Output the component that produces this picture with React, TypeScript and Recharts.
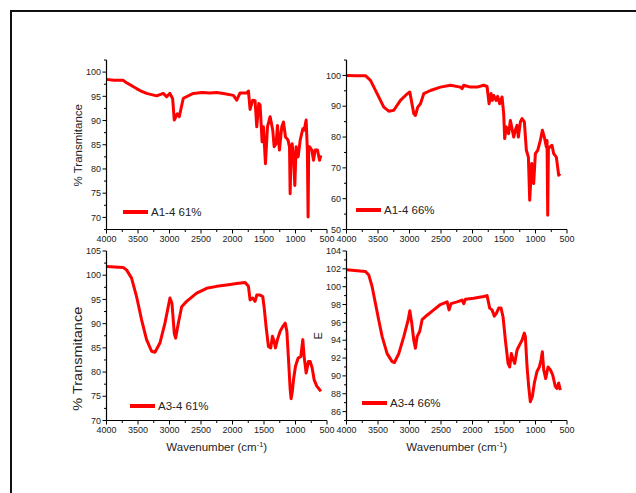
import React from "react";
import { LineChart, Line, XAxis, YAxis, Legend, Label } from "recharts";

// shared wavenumber ticks
const waveMajor = [4000, 3500, 3000, 2500, 2000, 1500, 1000, 500];
const waveMinor = [3750, 3250, 2750, 2250, 1750, 1250, 750];

// A1-4 61%
const a161Wave = [4000, 3880, 3735, 3682, 3600, 3523, 3440, 3364, 3205, 3099, 3046, 2993, 2950, 2924, 2876, 2845, 2781, 2622, 2480, 2357, 2250, 2145, 1986, 1933, 1880, 1774, 1747, 1721, 1679, 1642, 1615, 1583, 1562, 1530, 1509, 1477, 1445, 1403, 1361, 1339, 1308, 1286, 1255, 1218, 1191, 1159, 1138, 1117, 1095, 1085, 1070, 1053, 1032, 1011, 990, 958, 926, 884, 863, 831, 812, 800, 790, 778, 741, 714, 688, 651, 619, 598];
const a161T = [98.5, 98.3, 98.3, 97.8, 97.2, 96.6, 96.0, 95.6, 95.1, 95.6, 94.9, 95.6, 94.5, 90.1, 91.4, 90.8, 94.6, 95.6, 95.8, 95.7, 95.8, 95.6, 95.2, 94.2, 95.7, 95.7, 96.1, 92.3, 94.2, 94.1, 88.7, 93.5, 93.2, 85.6, 88.7, 81.1, 88.7, 90.8, 88.0, 84.6, 85.2, 89.0, 83.9, 88.7, 89.7, 86.6, 86.3, 85.9, 84.5, 74.9, 83.5, 85.2, 82.5, 76.6, 84.6, 82.5, 85.9, 88.3, 88.0, 90.1, 84.0, 70.1, 84.6, 84.6, 83.9, 81.8, 83.9, 83.9, 81.8, 82.8];
const a161Major = [70, 75, 80, 85, 90, 95, 100];
const a161Minor = [67.5, 72.5, 77.5, 82.5, 87.5, 92.5, 97.5, 102.5];

// A1-4 66%
const a166Wave = [4000, 3850, 3699, 3619, 3514, 3408, 3329, 3249, 3144, 3048, 2995, 2932, 2906, 2869, 2826, 2773, 2668, 2509, 2350, 2192, 2165, 2139, 2033, 1928, 1822, 1769, 1737, 1705, 1684, 1663, 1626, 1600, 1568, 1531, 1505, 1489, 1463, 1426, 1399, 1368, 1346, 1320, 1293, 1272, 1240, 1214, 1177, 1145, 1113, 1092, 1060, 1029, 1002, 965, 923, 891, 860, 828, 817, 806, 795, 775, 738, 711, 669, 632, 606];
const a166T = [100, 99.9, 99.9, 98.4, 94.1, 89.7, 88.4, 88.7, 91.9, 93.8, 94.6, 87.6, 87.0, 89.7, 90.8, 94.1, 95.1, 96.2, 96.8, 96.2, 95.7, 96.8, 96.2, 96.2, 96.8, 96.4, 90.8, 94.1, 91.9, 93.5, 91.9, 93.2, 90.8, 93.0, 87.6, 79.5, 83.3, 81.1, 85.4, 82.2, 80.0, 82.2, 83.8, 80.0, 84.9, 86.0, 84.9, 75.7, 73.5, 59.5, 71.4, 64.9, 74.6, 75.7, 78.9, 82.2, 80.0, 76.8, 78.9, 54.6, 76.0, 76.8, 77.3, 74.6, 73.5, 67.6, 68.1];
const a166Major = [50, 60, 70, 80, 90, 100];
const a166Minor = [55, 65, 75, 85, 95, 105];

// A3-4 61%
const a361Wave = [4000, 3735, 3682, 3602, 3523, 3443, 3364, 3284, 3231, 3152, 3072, 2993, 2961, 2924, 2903, 2860, 2807, 2728, 2569, 2410, 2251, 2092, 1933, 1800, 1747, 1721, 1679, 1642, 1615, 1562, 1520, 1499, 1467, 1430, 1393, 1366, 1339, 1318, 1287, 1244, 1202, 1163, 1137, 1111, 1085, 1070, 1050, 1032, 1000, 958, 916, 884, 863, 831, 794, 767, 735, 704, 662, 619, 598];
const a361T = [101.8, 101.6, 101.1, 99.4, 95.6, 90.8, 86.7, 84.3, 84.1, 86.0, 90.1, 95.3, 94.2, 88.0, 87.0, 90.1, 93.5, 94.6, 96.3, 97.3, 97.7, 98.0, 98.3, 98.5, 97.7, 94.9, 95.3, 94.6, 95.9, 95.9, 95.6, 93.5, 89.4, 85.3, 85.0, 87.4, 86.3, 85.0, 86.7, 88.4, 89.4, 90.1, 88.4, 82.6, 76.5, 74.5, 76.0, 78.4, 81.2, 82.9, 83.2, 86.7, 83.2, 79.8, 82.2, 82.2, 80.8, 78.4, 77.1, 76.4, 76.0];
const a361Major = [70, 75, 80, 85, 90, 95, 100, 105];
const a361Minor = [72.5, 77.5, 82.5, 87.5, 92.5, 97.5, 102.5];

// A3-4 66%
const a366Wave = [4000, 3699, 3646, 3593, 3540, 3487, 3434, 3355, 3276, 3239, 3170, 3091, 3027, 2995, 2964, 2932, 2906, 2879, 2837, 2800, 2721, 2615, 2509, 2403, 2372, 2340, 2245, 2165, 2139, 2112, 1980, 1822, 1769, 1727, 1690, 1653, 1621, 1584, 1547, 1515, 1478, 1436, 1410, 1383, 1357, 1330, 1293, 1251, 1214, 1177, 1161, 1134, 1108, 1082, 1050, 1018, 976, 939, 912, 891, 870, 838, 801, 765, 727, 685, 659, 632, 606];
const a366T = [101.9, 101.7, 101.3, 100.0, 98.1, 96.2, 94.4, 92.5, 91.6, 91.5, 92.5, 94.4, 96.1, 97.3, 95.9, 94.0, 93.1, 94.4, 95.0, 96.3, 96.8, 97.4, 98.0, 98.3, 97.4, 98.1, 98.3, 98.5, 98.1, 98.6, 98.7, 98.9, 99.0, 97.6, 97.4, 96.7, 97.0, 97.6, 97.6, 96.6, 94.0, 91.4, 91.0, 92.5, 91.9, 91.4, 92.9, 93.5, 94.0, 94.8, 94.4, 91.0, 88.8, 87.1, 87.7, 89.2, 90.5, 91.0, 91.8, 92.7, 90.7, 89.7, 91.0, 90.7, 90.1, 88.8, 88.6, 89.2, 88.4];
const a366Major = [86, 88, 90, 92, 94, 96, 98, 100, 102, 104];
const a366Minor = [85, 87, 89, 91, 93, 95, 97, 99, 101, 103];

const zip = (w: number[], t: number[]) => w.map((v, i) => ({ w: v, t: t[i] }));

const ink = "#222";

const makeYTick = (major: number[]) => (props: any) => {
  const { x, y, payload } = props;
  const isMajor = major.includes(payload.value);
  return (
    <g>
      <line x1={x - (isMajor ? 4 : 2.5)} x2={x} y1={y} y2={y} stroke="#000" strokeWidth={1} />
      {isMajor && (
        <text x={x - 5.5} y={y} dy={3.2} textAnchor="end" fontSize={9} fill={ink}>
          {payload.value}
        </text>
      )}
    </g>
  );
};

const xTick = (props: any) => {
  const { x, y, payload } = props;
  const isMajor = waveMajor.includes(payload.value);
  return (
    <g>
      <line x1={x} x2={x} y1={y} y2={y + (isMajor ? 4 : 2.5)} stroke="#000" strokeWidth={1} />
      {isMajor && (
        <text x={x} y={y + 12.5} textAnchor="middle" fontSize={9} fill={ink}>
          {payload.value}
        </text>
      )}
    </g>
  );
};

type PanelProps = {
  data: { w: number; t: number }[];
  yDomain: [number, number];
  yMajor: number[];
  yMinor: number[];
  name: string;
  left: number;
  top: number;
  legendLeft: number;
  legendTop: number;
  yTitle?: string;
  yTitleSize?: number;
  yTitleLength?: number;
  yTitleShift?: number;
  xTitle?: boolean;
};

function Panel(p: PanelProps) {
  const yTicks = [...p.yMajor, ...p.yMinor].sort((a, b) => a - b);
  return (
    <div style={{ position: "absolute", left: p.left, top: p.top }}>
      <LineChart width={280} height={215} data={p.data} margin={{ top: 10, right: 13, bottom: 5.5, left: 6.5 }}>
        <XAxis
          dataKey="w"
          type="number"
          domain={[500, 4000]}
          reversed
          ticks={[...waveMajor, ...waveMinor]}
          interval={0}
          height={30}
          tickSize={0}
          tickMargin={0}
          tickLine={false}
          axisLine={{ stroke: "#000", strokeWidth: 1.2 }}
          tick={xTick}
        >
          {p.xTitle && (
            <Label
              content={(lp: any) => {
                const vb = lp.viewBox;
                return (
                  <text x={vb.x + vb.width / 2} y={vb.y + 30.5} textAnchor="middle" fontSize={11.5} fill={ink}>
                    Wavenumber (cm
                    <tspan dy={-4.5} fontSize={7.5}>-1</tspan>
                    <tspan dy={4.5}>)</tspan>
                  </text>
                );
              }}
            />
          )}
        </XAxis>
        <YAxis
          type="number"
          domain={p.yDomain}
          allowDataOverflow
          ticks={yTicks}
          interval={0}
          width={40}
          tickSize={0}
          tickMargin={0}
          tickLine={false}
          axisLine={{ stroke: "#000", strokeWidth: 1.2 }}
          tick={makeYTick(p.yMajor)}
        >
          {p.yTitle && (
            <Label
              content={(lp: any) => {
                const vb = lp.viewBox;
                const cx = vb.x + 11.5;
                const cy = vb.y + vb.height / 2 + (p.yTitleShift || 0);
                return (
                  <text
                    x={cx}
                    y={cy}
                    transform={`rotate(-90 ${cx} ${cy})`}
                    textAnchor="middle"
                    dominantBaseline="central"
                    fontSize={p.yTitleSize || 11.5}
                    fill={ink}
                    textLength={p.yTitleLength}
                    lengthAdjust={p.yTitleLength ? "spacingAndGlyphs" : undefined}
                  >
                    {p.yTitle}
                  </text>
                );
              }}
            />
          )}
        </YAxis>
        <Legend
          layout="vertical"
          align="center"
          verticalAlign="middle"
          wrapperStyle={{ left: p.legendLeft, top: p.legendTop, width: "auto" }}
          content={() => (
            <div style={{ display: "flex", alignItems: "center", whiteSpace: "nowrap", height: 16 }}>
              <span style={{ display: "inline-block", width: 25, height: 3.5, background: "#ff0000", marginRight: 3 }} />
              <span style={{ fontSize: 11.5, color: ink }}>{p.name}</span>
            </div>
          )}
        />
        <Line
          type="linear"
          dataKey="t"
          name={p.name}
          stroke="#ff0000"
          strokeWidth={3}
          strokeLinejoin="round"
          dot={false}
          isAnimationActive={false}
        />
      </LineChart>
    </div>
  );
}

export default function App() {
  return (
    <div
      style={{
        position: "absolute",
        left: 0,
        top: 0,
        width: 636,
        height: 493,
        background: "#fff",
        overflow: "hidden",
        fontFamily: "'Liberation Sans', Arial, sans-serif",
      }}
    >
      <div
        style={{
          position: "absolute",
          left: 10,
          top: 10,
          width: 640,
          height: 500,
          borderTop: "2px solid #111",
          borderLeft: "2px solid #111",
        }}
      />
      <Panel
        data={zip(a161Wave, a161T)}
        yDomain={[67.5, 102.5]}
        yMajor={a161Major}
        yMinor={a161Minor}
        name="A1-4 61%"
        left={60}
        top={49.5}
        legendLeft={63}
        legendTop={154.5}
        yTitle="% Transmitance"
        yTitleShift={0.5}
      />
      <Panel
        data={zip(a166Wave, a166T)}
        yDomain={[50, 105]}
        yMajor={a166Major}
        yMinor={a166Minor}
        name="A1-4 66%"
        left={299.5}
        top={49.5}
        legendLeft={56.5}
        legendTop={152.5}
      />
      <Panel
        data={zip(a361Wave, a361T)}
        yDomain={[70, 105]}
        yMajor={a361Major}
        yMinor={a361Minor}
        name="A3-4 61%"
        left={60}
        top={241}
        legendLeft={70}
        legendTop={157}
        yTitle="% Transmitance"
        yTitleSize={12}
        yTitleLength={104}
        yTitleShift={23}
        xTitle
      />
      <Panel
        data={zip(a366Wave, a366T)}
        yDomain={[85, 104]}
        yMajor={a366Major}
        yMinor={a366Minor}
        name="A3-4 66%"
        left={299.5}
        top={241}
        legendLeft={62.5}
        legendTop={154}
        yTitle="E"
        yTitleSize={11}
        xTitle
      />
    </div>
  );
}
